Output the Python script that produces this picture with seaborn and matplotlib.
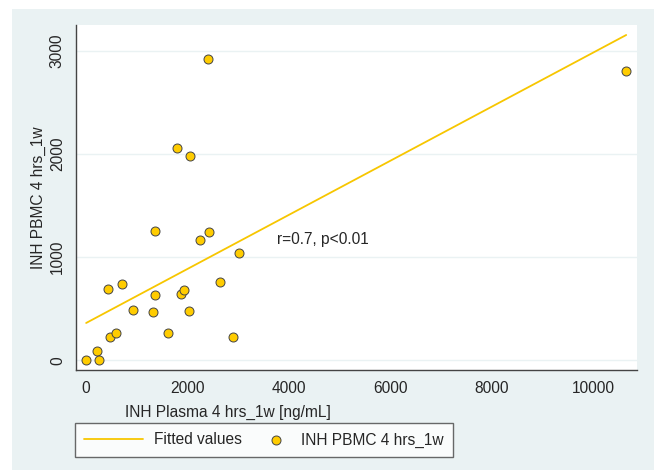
import numpy as np
import pandas as pd
import matplotlib
matplotlib.use("Agg")
import matplotlib.pyplot as plt
from matplotlib.patches import Rectangle
from matplotlib.legend_handler import HandlerPathCollection
import seaborn as sns

# INH plasma vs PBMC concentrations
plasma = [2410, 1800, 2050, 1366, 2253, 2430, 3013, 709, 440, 1353, 1872, 1931,
          2640, 926, 1327, 2023, 473, 598, 1616, 2897, 217, 0, 256, 10647]
pbmc = [2925, 2058, 1986, 1258, 1168, 1246, 1045, 744, 692, 631, 647, 680,
        760, 491, 466, 476, 229, 265, 262, 229, 93, 0, 0, 2809]
# fitted line end points (as drawn in the original)
fit_x = [0, 10647]
fit_y = [362, 3155]
x_ticks = [0, 2000, 4000, 6000, 8000, 10000]
y_ticks = [0, 1000, 2000, 3000]

df = pd.DataFrame({"plasma": plasma, "pbmc": pbmc})
fit = pd.DataFrame({"plasma": fit_x, "pbmc": fit_y})

sns.set_style("white")
plt.rcParams["font.family"] = ["Liberation Sans", "DejaVu Sans"]

yellow = "#F7C600"
bg = "#EAF2F3"
fs = 11.2

fig = plt.figure(figsize=(6.59, 4.70), dpi=100)
fig.patches.append(Rectangle((12 / 659, 0), 642 / 659, 461 / 470,
                             transform=fig.transFigure, facecolor=bg,
                             edgecolor="none", zorder=-1))
ax = fig.add_axes([76 / 659, 1 - 370 / 470, 561 / 659, 345 / 470])
ax.set_facecolor("white")

sns.lineplot(data=fit, x="plasma", y="pbmc", ax=ax, color=yellow, lw=1.3,
             label="Fitted values")
sns.scatterplot(data=df, x="plasma", y="pbmc", ax=ax, color="#FFCC00",
                edgecolor="#444444", linewidth=0.7, s=42, zorder=3,
                label="INH PBMC 4 hrs_1w")

ax.set_xlim(-200, 10860)
ax.set_ylim(-94, 3252)
ax.set_xticks(x_ticks)
ax.set_yticks(y_ticks)
ax.yaxis.grid(True, color=bg, lw=1.0)
ax.set_axisbelow(True)
for s in ["top", "right"]:
    ax.spines[s].set_visible(False)
for s in ["left", "bottom"]:
    ax.spines[s].set_color("#444444")
    ax.spines[s].set_linewidth(1.0)
ax.tick_params(axis="both", direction="out", length=5, width=0.8,
               color="#444444", labelsize=fs, pad=3)
plt.setp(ax.get_yticklabels(), rotation=90, va="center")
ax.set_xlabel("")
ax.set_ylabel("")

fig.text(125 / 659, 1 - 412 / 470, "INH Plasma 4 hrs_1w [ng/mL]",
         ha="left", va="center", fontsize=fs)
fig.text(38 / 659, 1 - 198 / 470, "INH PBMC 4 hrs_1w", rotation=90,
         ha="center", va="center", fontsize=fs)
ax.text(3760, 1168, "r=0.7, p<0.01", ha="left", va="center", fontsize=fs)

handles, labels = ax.get_legend_handles_labels()
leg = ax.legend(handles, labels, loc="center left",
                bbox_to_anchor=(75 / 659, 1 - 440 / 470),
                bbox_transform=fig.transFigure, borderaxespad=0, ncol=2,
                frameon=True, fancybox=False, edgecolor="#444444", fontsize=fs,
                handlelength=3.8, columnspacing=-0.7, borderpad=0.6,
                handletextpad=0.7,
                handler_map={handles[1]: HandlerPathCollection(xpad=1.9)})
leg.get_frame().set_linewidth(1.0)

fig.savefig("out.png", dpi=100, facecolor="white")
